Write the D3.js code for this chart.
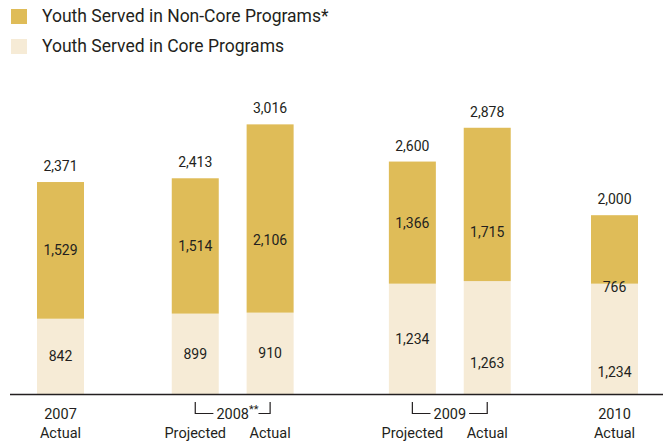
<!DOCTYPE html>
<html>
<head>
<meta charset="utf-8">
<script src="https://cdn.jsdelivr.net/npm/d3@7"></script>
<style>
  body { margin: 0; background: #fff; }
  text { fill: #231f20; font-family: "Roboto", sans-serif; }
  .num { font-size: 14px; }
  .axis-lab { font-size: 14.5px; }
  .legend text { font-size: 17.5px; }
</style>
</head>
<body>
<div id="chart"></div>
<script>
// data
const barYears = ["2007", "2008", "2008", "2009", "2009", "2010"];
const barKinds = ["Actual", "Projected", "Actual", "Projected", "Actual", "Actual"];
const coreValues = [842, 899, 910, 1234, 1263, 1234];
const nonCoreValues = [1529, 1514, 2106, 1366, 1715, 766];
const totalLabels = ["2,371", "2,413", "3,016", "2,600", "2,878", "2,000"];
const seriesNames = ["Youth Served in Non-Core Programs*", "Youth Served in Core Programs"];
const yearNotes = { "2008": "**" };

// layout
const W = 664, H = 442;
const baseY = 394;
const barW = 47;
const groupGap = [0, 1.8, 1.9, 1.7];   // extra space before each year group, in bar steps
const labelShift = { nonCore: [0, 0, 21, 0, 28, 38], core: [0, 0, 0, 0, 25, 33] };
const colors = { nonCore: "#dfbc58", core: "#f6ebd6" };

const fmt = d3.format(",");

// slot position of each bar
const slots = [];
let g = -1, pos = 0;
barYears.forEach((y, i) => {
  if (i === 0) { g = 0; pos = 0; }
  else if (y !== barYears[i - 1]) { g++; pos += groupGap[g]; }
  else pos += 1;
  slots.push(pos);
});

const bars = barYears.map((y, i) => ({
  i, year: y, kind: barKinds[i], core: coreValues[i], nonCore: nonCoreValues[i],
  total: totalLabels[i], slot: slots[i]
}));

const x = d3.scaleLinear().domain([0, d3.max(slots)]).range([60.5, 614.5]);
const yScale = d3.scaleLinear().domain([0, 3000]).range([baseY, baseY - 3000 * 0.0894]);

const svg = d3.select("#chart").append("svg")
  .attr("width", W).attr("height", H);

// legend
const legend = svg.append("g").attr("class", "legend");
[colors.nonCore, colors.core].forEach((c, i) => {
  legend.append("rect")
    .attr("x", 11).attr("y", 9 + i * 30)
    .attr("width", 16).attr("height", 15)
    .attr("fill", c);
  legend.append("text")
    .attr("x", 42).attr("y", 22 + i * 30)
    .text(seriesNames[i]);
});

// bars
const barG = svg.append("g");
barG.selectAll(".core").data(bars).enter().append("rect")
  .attr("class", "core")
  .attr("x", d => x(d.slot) - barW / 2)
  .attr("width", barW)
  .attr("y", d => yScale(d.core))
  .attr("height", d => yScale(0) - yScale(d.core))
  .attr("fill", colors.core);

barG.selectAll(".noncore").data(bars).enter().append("rect")
  .attr("class", "noncore")
  .attr("x", d => x(d.slot) - barW / 2)
  .attr("width", barW)
  .attr("y", d => yScale(d.core + d.nonCore))
  .attr("height", d => yScale(d.core) - yScale(d.core + d.nonCore))
  .attr("fill", colors.nonCore);

// value labels
barG.selectAll(".lab-core").data(bars).enter().append("text")
  .attr("class", "num")
  .attr("x", d => x(d.slot))
  .attr("y", d => (yScale(0) + yScale(d.core)) / 2 + labelShift.core[d.i])
  .attr("dy", "0.36em")
  .attr("text-anchor", "middle")
  .text(d => fmt(d.core));

barG.selectAll(".lab-noncore").data(bars).enter().append("text")
  .attr("class", "num")
  .attr("x", d => x(d.slot))
  .attr("y", d => (yScale(d.core) + yScale(d.core + d.nonCore)) / 2 + labelShift.nonCore[d.i])
  .attr("dy", "0.36em")
  .attr("text-anchor", "middle")
  .text(d => fmt(d.nonCore));

barG.selectAll(".lab-total").data(bars).enter().append("text")
  .attr("class", "num")
  .attr("x", d => x(d.slot))
  .attr("y", d => yScale(d.core + d.nonCore) - 11)
  .attr("text-anchor", "middle")
  .text(d => d.total);

// baseline
svg.append("line")
  .attr("x1", 10).attr("x2", 663)
  .attr("y1", baseY + 0.5).attr("y2", baseY + 0.5)
  .attr("stroke", "#231f20").attr("stroke-width", 1.6);

// x labels
const axisG = svg.append("g");
const groups = d3.groups(bars, d => d.year);
groups.forEach(([year, list]) => {
  const cx = d3.mean(list, d => x(d.slot));
  const yt = axisG.append("text").attr("class", "axis-lab")
    .attr("x", cx).attr("y", 419).attr("text-anchor", "middle").text(year);
  list.forEach(d => {
    axisG.append("text").attr("class", "axis-lab")
      .attr("x", x(d.slot)).attr("y", 438).attr("text-anchor", "middle").text(d.kind);
  });
  if (list.length > 1) {
    const tw = yt.node().getComputedTextLength();
    let right = cx + tw / 2;
    if (yearNotes[year]) {
      const note = axisG.append("text")
        .attr("x", right).attr("y", 413)
        .style("font-size", "11px")
        .text(yearNotes[year]);
      right += note.node().getComputedTextLength() - 3;
    }
    const x0 = x(list[0].slot), x1 = x(list[list.length - 1].slot);
    const path = d3.path();
    path.moveTo(x0, 402); path.lineTo(x0, 413.5); path.lineTo(cx - tw / 2 - 3, 413.5);
    path.moveTo(right + 3, 413.5); path.lineTo(x1, 413.5); path.lineTo(x1, 402);
    axisG.append("path").attr("d", path.toString())
      .attr("fill", "none").attr("stroke", "#231f20").attr("stroke-width", 1.2);
  }
});
</script>
</body>
</html>
